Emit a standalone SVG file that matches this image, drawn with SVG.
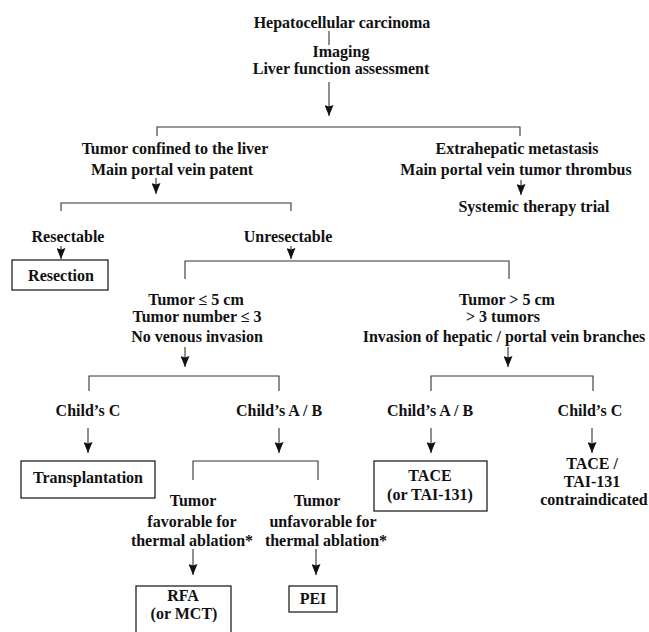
<svg xmlns="http://www.w3.org/2000/svg" width="649" height="632" viewBox="0 0 649 632">
<style>
text{font-family:"Liberation Serif","Times New Roman",serif;font-weight:bold;font-size:16px;fill:#111;text-anchor:middle}
.ln{fill:none;stroke:#333;stroke-width:1.1}
.box{fill:#fff;stroke:#222;stroke-width:1.3}
</style>
<defs>
<marker id="ah" markerUnits="userSpaceOnUse" markerWidth="11" markerHeight="9" viewBox="0 0 11 9" refX="11" refY="4.5" orient="auto">
<path d="M0,0 L11,4.5 L0,9 L1.5,4.5 Z" fill="#111"/>
</marker>
</defs>
<rect width="649" height="632" fill="#fff"/>
<g id="connectors">
<path class="ln" d="M329,31 V45"/>
<path class="ln" d="M329,82 V116" marker-end="url(#ah)"/>
<path class="ln" d="M157,136 V127 H520 V136"/>
<path class="ln" d="M156,178 V194" marker-end="url(#ah)"/>
<path class="ln" d="M521,180 V195" marker-end="url(#ah)"/>
<path class="ln" d="M61,211 V203 H291 V211"/>
<path class="ln" d="M61,246 V259" marker-end="url(#ah)"/>
<path class="ln" d="M291,246 V259" marker-end="url(#ah)"/>
<path class="ln" d="M185,279 V261 H509 V279"/>
<path class="ln" d="M185,347 V367" marker-end="url(#ah)"/>
<path class="ln" d="M508,347 V367" marker-end="url(#ah)"/>
<path class="ln" d="M89,391 V376 H279 V391"/>
<path class="ln" d="M431,391 V376 H593 V391"/>
<path class="ln" d="M88,428 V453" marker-end="url(#ah)"/>
<path class="ln" d="M279,428 V453" marker-end="url(#ah)"/>
<path class="ln" d="M431,428 V453" marker-end="url(#ah)"/>
<path class="ln" d="M592,428 V453" marker-end="url(#ah)"/>
<path class="ln" d="M193,480 V461 H318 V480"/>
<path class="ln" d="M193,549 V575" marker-end="url(#ah)"/>
<path class="ln" d="M316,549 V575" marker-end="url(#ah)"/>
</g>
<g id="hcc"><text x="342" y="28">Hepatocellular carcinoma</text></g>
<g id="imaging"><text x="341" y="57">Imaging</text><text x="341" y="74">Liver function assessment</text></g>
<g id="confined"><text x="175" y="154">Tumor confined to the liver</text><text x="172" y="175">Main portal vein patent</text></g>
<g id="extrahepatic"><text x="517" y="154">Extrahepatic metastasis</text><text x="516" y="175">Main portal vein tumor thrombus</text></g>
<g id="systemic"><text x="534" y="212">Systemic therapy trial</text></g>
<g id="resectable"><text x="68" y="242">Resectable</text></g>
<g id="unresectable"><text x="288" y="242">Unresectable</text></g>
<g id="resection"><rect class="box" x="12" y="260" width="96" height="30"/><text x="61" y="281">Resection</text></g>
<g id="small"><text x="196" y="305">Tumor ≤ 5 cm</text><text x="197" y="322">Tumor number ≤ 3</text><text x="197" y="342">No venous invasion</text></g>
<g id="large"><text x="507" y="305">Tumor &gt; 5 cm</text><text x="503" y="322">&gt; 3 tumors</text><text x="504" y="342">Invasion of hepatic / portal vein branches</text></g>
<g id="childC1"><text x="88" y="416">Child’s C</text></g>
<g id="childAB1"><text x="279" y="416">Child’s A / B</text></g>
<g id="childAB2"><text x="430" y="416">Child’s A / B</text></g>
<g id="childC2"><text x="590" y="416">Child’s C</text></g>
<g id="transplantation"><rect class="box" x="21" y="461" width="134" height="37"/><text x="88" y="483">Transplantation</text></g>
<g id="tace"><rect class="box" x="374" y="461" width="113" height="50"/><text x="430" y="481">TACE</text><text x="430" y="500">(or TAI-131)</text></g>
<g id="contra"><text x="592" y="469">TACE /</text><text x="592" y="487">TAI-131</text><text x="594" y="505">contraindicated</text></g>
<g id="favorable"><text x="193" y="506">Tumor</text><text x="192" y="527">favorable for</text><text x="192" y="546">thermal ablation*</text></g>
<g id="unfavorable"><text x="317" y="506">Tumor</text><text x="323" y="527">unfavorable for</text><text x="326" y="546">thermal ablation*</text></g>
<g id="rfa"><rect class="box" x="136" y="586" width="95" height="50"/><text x="183" y="601">RFA</text><text x="184" y="619">(or MCT)</text></g>
<g id="pei"><rect class="box" x="289" y="586" width="48" height="26"/><text x="313" y="604">PEI</text></g>
</svg>
